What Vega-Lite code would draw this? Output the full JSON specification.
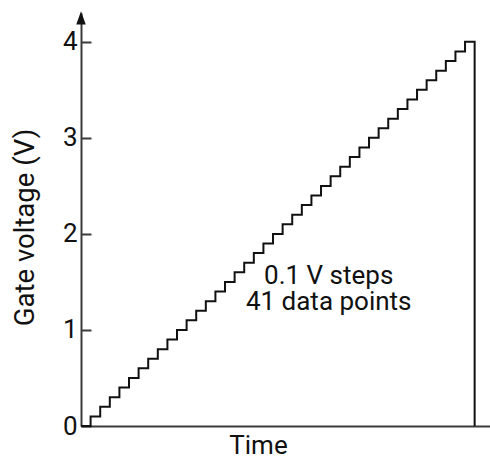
{
  "$schema": "https://vega.github.io/schema/vega-lite/v6.json",
  "autosize": {"type": "none"},
  "padding": {"left": 81, "top": 13, "right": 0, "bottom": 32},
  "width": 409,
  "height": 413,
  "background": "white",
  "config": {
    "view": {"stroke": null},
    "font": "Roboto",
    "axis": {"grid": false, "domainColor": "#3a3a3a", "domainWidth": 2, "tickColor": "#3a3a3a", "tickWidth": 2, "labelFont": "Roboto", "labelFontSize": 26, "labelColor": "#111", "titleFont": "Roboto", "titleFontSize": 26, "titleFontWeight": "normal", "titleColor": "#111"}
  },
  "layer": [
    {
      "data": {"values": [
        {"i": 0, "t": 0, "v": 0.0}, {"i": 1, "t": 1, "v": 0.1}, {"i": 2, "t": 2, "v": 0.2}, {"i": 3, "t": 3, "v": 0.3},
        {"i": 4, "t": 4, "v": 0.4}, {"i": 5, "t": 5, "v": 0.5}, {"i": 6, "t": 6, "v": 0.6}, {"i": 7, "t": 7, "v": 0.7},
        {"i": 8, "t": 8, "v": 0.8}, {"i": 9, "t": 9, "v": 0.9}, {"i": 10, "t": 10, "v": 1.0}, {"i": 11, "t": 11, "v": 1.1},
        {"i": 12, "t": 12, "v": 1.2}, {"i": 13, "t": 13, "v": 1.3}, {"i": 14, "t": 14, "v": 1.4}, {"i": 15, "t": 15, "v": 1.5},
        {"i": 16, "t": 16, "v": 1.6}, {"i": 17, "t": 17, "v": 1.7}, {"i": 18, "t": 18, "v": 1.8}, {"i": 19, "t": 19, "v": 1.9},
        {"i": 20, "t": 20, "v": 2.0}, {"i": 21, "t": 21, "v": 2.1}, {"i": 22, "t": 22, "v": 2.2}, {"i": 23, "t": 23, "v": 2.3},
        {"i": 24, "t": 24, "v": 2.4}, {"i": 25, "t": 25, "v": 2.5}, {"i": 26, "t": 26, "v": 2.6}, {"i": 27, "t": 27, "v": 2.7},
        {"i": 28, "t": 28, "v": 2.8}, {"i": 29, "t": 29, "v": 2.9}, {"i": 30, "t": 30, "v": 3.0}, {"i": 31, "t": 31, "v": 3.1},
        {"i": 32, "t": 32, "v": 3.2}, {"i": 33, "t": 33, "v": 3.3}, {"i": 34, "t": 34, "v": 3.4}, {"i": 35, "t": 35, "v": 3.5},
        {"i": 36, "t": 36, "v": 3.6}, {"i": 37, "t": 37, "v": 3.7}, {"i": 38, "t": 38, "v": 3.8}, {"i": 39, "t": 39, "v": 3.9},
        {"i": 40, "t": 40, "v": 4.0}, {"i": 41, "t": 41, "v": 4.0}, {"i": 42, "t": 41, "v": 0.0}
      ]},
      "mark": {"type": "line", "interpolate": "step-after", "color": "#111", "strokeWidth": 2},
      "encoding": {
        "x": {"field": "t", "type": "quantitative", "scale": {"domain": [0, 42.6], "nice": false, "zero": false},
              "axis": {"ticks": false, "labels": false, "title": "Time", "titleX": 177, "titleY": 27, "titleBaseline": "alphabetic", "titleAlign": "center"}},
        "y": {"field": "v", "type": "quantitative", "scale": {"domain": [0, 4.3], "nice": false},
              "axis": {"values": [0, 1, 2, 3, 4], "format": "d", "tickSize": -10, "labelPadding": 14, "title": "Gate voltage (V)", "titleFontSize": 27.5, "titleX": -48, "titleY": 214, "titleBaseline": "alphabetic", "titleAlign": "center", "titleAngle": 270}},
        "order": {"field": "i", "type": "quantitative"}
      }
    },
    {
      "data": {"values": [{"x": 0, "y": 4.18}]},
      "mark": {"type": "point", "shape": "M-0.5,0L0.5,0L0,-1.4Z", "size": 360, "filled": true, "color": "#111", "opacity": 1},
      "encoding": {
        "x": {"field": "x", "type": "quantitative"},
        "y": {"field": "y", "type": "quantitative"}
      }
    },
    {
      "data": {"values": [{"x": 25.8, "y": 1.479, "label": "0.1 V steps"}, {"x": 25.8, "y": 1.208, "label": "41 data points"}]},
      "mark": {"type": "text", "fontSize": 26, "font": "Roboto", "color": "#111", "align": "center", "baseline": "alphabetic"},
      "encoding": {
        "x": {"field": "x", "type": "quantitative"},
        "y": {"field": "y", "type": "quantitative"},
        "text": {"field": "label"}
      }
    }
  ]
}
